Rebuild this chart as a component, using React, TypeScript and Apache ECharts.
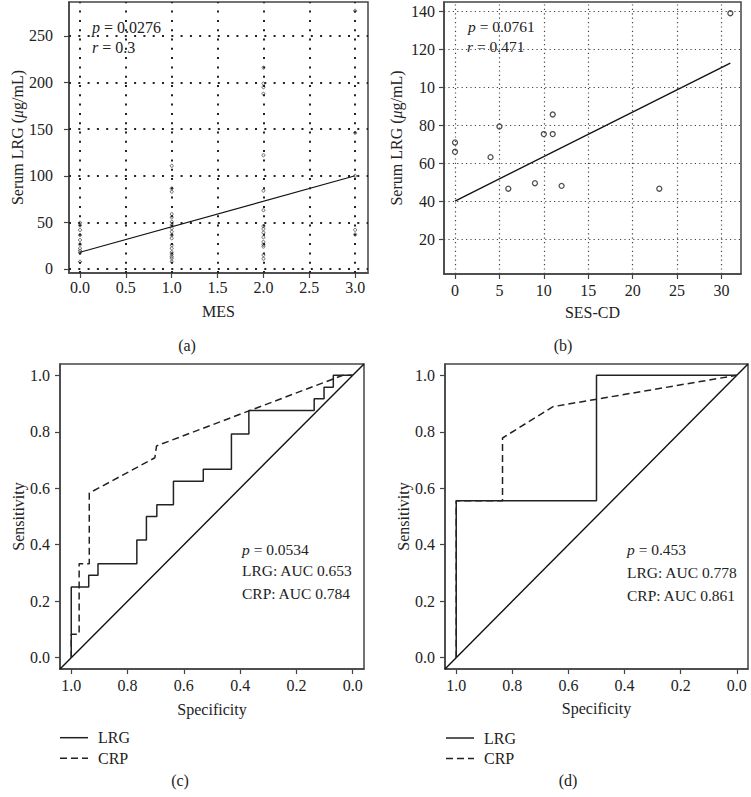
import React, { useEffect, useRef } from "react";
import * as echarts from "echarts";

// ---------- Panel (a): Serum LRG vs MES ----------
const mes0Values = [49.6, 46.8, 41.8, 36.4, 31.1, 26.4, 22.1, 19.6, 17.5, 7.8];
const mes1Values = [110.7, 86.4, 82.9, 58.9, 55.4, 50.7, 47.1, 43.6, 40, 36.4, 32.9, 25.7, 22.1, 17.9, 15.7, 13.2, 11.4, 7.9];
const mes2Values = [216, 199, 195, 188, 122, 84, 63, 46, 43, 39, 34, 29, 26, 24, 15, 11];
const mes3Values = [277, 146, 100, 42, 37];
const mesFitX = [0, 3];
const mesFitY = [18, 100];
const mesXTicks = [0, 0.5, 1, 1.5, 2, 2.5, 3];
const mesYTicks = [0, 50, 100, 150, 200, 250];

// ---------- Panel (b): Serum LRG vs SES-CD ----------
const sesX = [0, 0, 4, 5, 6, 9, 10, 11, 11, 12, 23, 31];
const sesY = [71.1, 66.2, 63.4, 79.5, 46.8, 49.7, 75.5, 75.5, 85.8, 48.3, 46.8, 139];
const sesFitX = [0, 31];
const sesFitY = [40.3, 112.8];
const sesXTicks = [0, 5, 10, 15, 20, 25, 30];
const sesYTicks = [20, 40, 60, 80, 100, 120, 140];
const sesYTickLabels = ["20", "40", "60", "80", "10", "120", "140"];

// ---------- Panel (c): ROC ----------
const lrgCSpec = [1.0, 1.0, 0.938, 0.938, 0.905, 0.905, 0.767, 0.767, 0.733, 0.733, 0.696, 0.696, 0.637, 0.637, 0.531, 0.531, 0.431, 0.431, 0.369, 0.369, 0.137, 0.137, 0.102, 0.102, 0.069, 0.069, 0.0];
const lrgCSens = [0, 0.25, 0.25, 0.292, 0.292, 0.333, 0.333, 0.417, 0.417, 0.5, 0.5, 0.542, 0.542, 0.625, 0.625, 0.667, 0.667, 0.792, 0.792, 0.875, 0.875, 0.917, 0.917, 0.958, 0.958, 1.0, 1.0];
const crpCSpec = [1.0, 1.0, 0.972, 0.972, 0.936, 0.936, 0.703, 0.697, 0.035, 0.0];
const crpCSens = [0, 0.083, 0.083, 0.333, 0.333, 0.583, 0.708, 0.75, 1.0, 1.0];

// ---------- Panel (d): ROC ----------
const lrgDSpec = [1.0, 1.0, 0.5, 0.5, 0.0];
const lrgDSens = [0, 0.556, 0.556, 1.0, 1.0];
const crpDSpec = [1.0, 1.0, 0.835, 0.835, 0.655, 0.0];
const crpDSens = [0, 0.556, 0.556, 0.778, 0.889, 1.0];

const rocTicks = [0, 0.2, 0.4, 0.6, 0.8, 1.0];
const rocRange = [-0.04, 1.04];
const legendNames = ["LRG", "CRP"];

const FONT = "Liberation Serif";
const TXT = "#222";
const BOX = "#444";
const DASH = [7, 4];

const zip = (xs: number[], ys: number[]) => xs.map((x, i) => [x, ys[i]]);

function axisBase(gridIndex: number, ticks: number[], fmt: (v: number) => string, margin: number) {
  return {
    type: "value" as const,
    gridIndex,
    axisLine: { show: true, onZero: false, lineStyle: { color: BOX, width: 1.5 } },
    axisTick: { show: true, length: 5, customValues: ticks, lineStyle: { color: BOX, width: 1.2 } },
    axisLabel: { customValues: ticks, formatter: fmt, margin, color: TXT, fontFamily: FONT, fontSize: 16 },
    splitLine: { show: false },
    nameLocation: "middle" as const,
    nameTextStyle: {
      color: TXT,
      fontFamily: FONT,
      fontSize: 16,
      rich: { i: { fontStyle: "italic", fontFamily: FONT, fontSize: 16, color: TXT } },
    },
  };
}

const f1 = (v: number) => v.toFixed(1);
const f0 = (v: number) => String(v);

function gridLines(xs: number[], ys: number[], style: any) {
  return {
    silent: true,
    symbol: ["none", "none"],
    label: { show: false },
    lineStyle: style,
    data: [...xs.map((v) => ({ xAxis: v })), ...ys.map((v) => ({ yAxis: v }))],
  };
}

function richText(left: number, top: number, text: string, size = 15.5) {
  return {
    type: "text",
    left,
    top,
    silent: true,
    style: {
      text,
      fill: TXT,
      fontFamily: FONT,
      fontSize: size,
      rich: {
        i: { fontStyle: "italic", fontFamily: FONT, fontSize: size, fill: TXT },
      },
    },
  };
}

function centerText(x: number, y: number, text: string, align = "center") {
  return {
    type: "text",
    x,
    y,
    silent: true,
    style: { text, fill: TXT, fontFamily: FONT, fontSize: 16, align, verticalAlign: "middle" },
  };
}

function legendBlock(x: number, y: number) {
  const out: any[] = [];
  legendNames.forEach((name, i) => {
    const yy = y + i * 20.6;
    out.push({
      type: "line",
      silent: true,
      shape: { x1: x, y1: yy, x2: x + 28, y2: yy },
      style: { stroke: "#222", lineWidth: 1.5, lineDash: i === 1 ? DASH : null },
    });
    out.push(centerText(x + 38, yy, name, "left"));
  });
  return out;
}

export default function App() {
  const ref = useRef<HTMLDivElement>(null);
  useEffect(() => {
    if (!ref.current) return;
    const chart = echarts.init(ref.current, null, { renderer: "svg" });
    const gridCommon = { show: true, borderColor: BOX, borderWidth: 1.5, backgroundColor: "transparent", outerBoundsMode: "none" };
    const hollow = (size: number, bw: number) => ({
      symbol: "circle",
      symbolSize: size,
      itemStyle: { color: "rgba(0,0,0,0)", borderColor: "#222", borderWidth: bw },
    });
    const option: any = {
      animation: false,
      backgroundColor: "#fff",
      textStyle: { fontFamily: FONT },
      grid: [
        { ...gridCommon, left: 69, top: 2, width: 299, height: 271 },
        { ...gridCommon, left: 444, top: 2, width: 297, height: 272 },
        { ...gridCommon, left: 60, top: 364, width: 304, height: 305 },
        { ...gridCommon, left: 445, top: 364, width: 303, height: 305 },
      ],
      xAxis: [
        { ...axisBase(0, mesXTicks, f1, 6), min: -0.12, max: 3.14, name: "MES", nameGap: 30 },
        { ...axisBase(1, sesXTicks, f0, 8), min: -1.24, max: 32.2, name: "SES-CD", nameGap: 30 },
        { ...axisBase(2, rocTicks, f1, 8), min: rocRange[0], max: rocRange[1], inverse: true, name: "Specificity", nameGap: 32 },
        { ...axisBase(3, rocTicks, f1, 8), min: rocRange[0], max: rocRange[1], inverse: true, name: "Specificity", nameGap: 31 },
      ],
      yAxis: [
        { ...axisBase(0, mesYTicks, f0, 16), min: -4.3, max: 286.4, name: "Serum LRG ({i|μ}g/mL)", nameGap: 43 },
        {
          ...axisBase(1, sesYTicks, (v: number) => sesYTickLabels[sesYTicks.indexOf(v)] ?? String(v), 9),
          min: 2,
          max: 144.9,
          name: "Serum LRG ({i|μ}g/mL)",
          nameGap: 40,
        },
        { ...axisBase(2, rocTicks, f1, 10), min: rocRange[0], max: rocRange[1], name: "Sensitivity", nameGap: 31 },
        { ...axisBase(3, rocTicks, f1, 10), min: rocRange[0], max: rocRange[1], name: "Sensitivity", nameGap: 30 },
      ],
      series: [
        // Panel (a)
        {
          name: "fitA",
          type: "line",
          xAxisIndex: 0,
          yAxisIndex: 0,
          data: zip(mesFitX, mesFitY),
          symbol: "none",
          lineStyle: { color: "#111", width: 1.2 },
          markLine: gridLines(mesXTicks, mesYTicks, { color: "#222", width: 2, type: [2, 7.3], opacity: 1 }),
          z: 3,
        },
        {
          name: "MES pts",
          type: "scatter",
          xAxisIndex: 0,
          yAxisIndex: 0,
          ...hollow(3, 0.8),
          data: [
            ...mes0Values.map((v) => [0, v]),
            ...mes1Values.map((v) => [1, v]),
            ...mes2Values.map((v) => [2, v]),
            ...mes3Values.map((v) => [3, v]),
          ],
          z: 4,
        },
        // Panel (b)
        {
          name: "fitB",
          type: "line",
          xAxisIndex: 1,
          yAxisIndex: 1,
          data: zip(sesFitX, sesFitY),
          symbol: "none",
          lineStyle: { color: "#111", width: 1.4 },
          markLine: gridLines(sesXTicks, sesYTicks, { color: "#444", width: 1.2, type: [1.2, 3.2], opacity: 1 }),
          z: 3,
        },
        {
          name: "SES pts",
          type: "scatter",
          xAxisIndex: 1,
          yAxisIndex: 1,
          ...hollow(5, 1.3),
          data: zip(sesX, sesY),
          z: 4,
        },
        // Panel (c)
        {
          name: "refC",
          type: "line",
          xAxisIndex: 2,
          yAxisIndex: 2,
          data: [
            [rocRange[1], rocRange[0]],
            [rocRange[0], rocRange[1]],
          ],
          symbol: "none",
          lineStyle: { color: "#111", width: 1.4 },
        },
        {
          name: "LRG",
          type: "line",
          xAxisIndex: 2,
          yAxisIndex: 2,
          data: zip(lrgCSpec, lrgCSens),
          symbol: "none",
          lineStyle: { color: "#222", width: 1.5, type: "solid" },
        },
        {
          name: "CRP",
          type: "line",
          xAxisIndex: 2,
          yAxisIndex: 2,
          data: zip(crpCSpec, crpCSens),
          symbol: "none",
          lineStyle: { color: "#222", width: 1.5, type: DASH },
        },
        // Panel (d)
        {
          name: "refD",
          type: "line",
          xAxisIndex: 3,
          yAxisIndex: 3,
          data: [
            [rocRange[1], rocRange[0]],
            [rocRange[0], rocRange[1]],
          ],
          symbol: "none",
          lineStyle: { color: "#111", width: 1.4 },
        },
        {
          name: "LRG",
          type: "line",
          xAxisIndex: 3,
          yAxisIndex: 3,
          data: zip(lrgDSpec, lrgDSens),
          symbol: "none",
          lineStyle: { color: "#222", width: 1.5, type: "solid" },
        },
        {
          name: "CRP",
          type: "line",
          xAxisIndex: 3,
          yAxisIndex: 3,
          data: zip(crpDSpec, crpDSens),
          symbol: "none",
          lineStyle: { color: "#222", width: 1.5, type: DASH },
        },
      ],
      graphic: [
        richText(92, 19, "{i|p} = 0.0276", 16),
        richText(92, 39, "{i|r} = 0.3", 16),
        richText(468, 18, "{i|p} = 0.0761"),
        richText(467, 38, "{i|r} = 0.471"),
        richText(242, 541, "{i|p} = 0.0534"),
        richText(242, 562, "LRG: AUC 0.653"),
        richText(242, 585, "CRP: AUC 0.784"),
        richText(627, 541, "{i|p} = 0.453"),
        richText(627, 564, "LRG: AUC 0.778"),
        richText(627, 587, "CRP: AUC 0.861"),
        ...legendBlock(60, 737.7),
        ...legendBlock(446, 738),
        centerText(187, 345, "(a)"),
        centerText(563, 345, "(b)"),
        centerText(180, 780, "(c)"),
        centerText(568, 780, "(d)"),
      ],
    };
    chart.setOption(option);
    return () => chart.dispose();
  }, []);
  return (
    <div
      ref={ref}
      style={{ position: "absolute", left: 0, top: 0, width: 751, height: 797, background: "#fff" }}
    />
  );
}
